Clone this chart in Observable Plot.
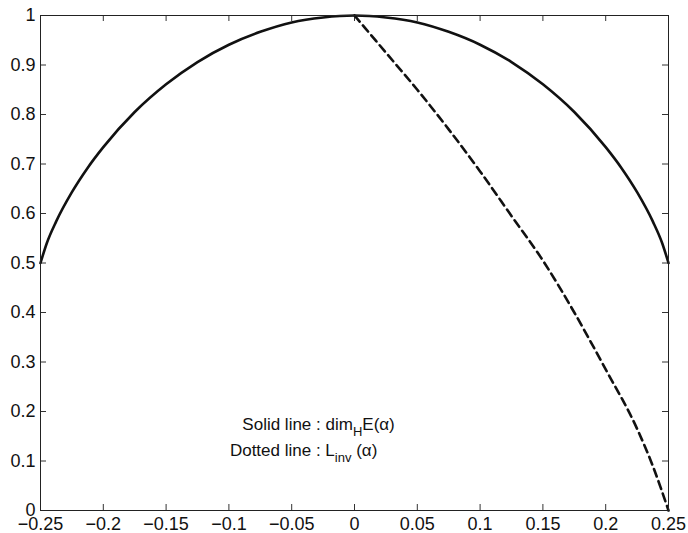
<!DOCTYPE html>
<html>
<head>
<meta charset="utf-8">
<script src="https://cdn.jsdelivr.net/npm/d3@7"></script>
<script src="https://cdn.jsdelivr.net/npm/@observablehq/plot@0.6"></script>
<style>
  html, body { margin: 0; padding: 0; background: #fff; }
</style>
</head>
<body>
<div id="chart"></div>
<script>
// ---- data ----
const solidX = [-0.25, -0.245, -0.2375, -0.225, -0.2125, -0.2, -0.175, -0.15, -0.125, -0.1, -0.075, -0.05, -0.025, 0,
                0.025, 0.05, 0.075, 0.1, 0.125, 0.15, 0.175, 0.2, 0.2125, 0.225, 0.2375, 0.245, 0.25];
const solidY = [0.5, 0.54, 0.584, 0.643, 0.692, 0.734, 0.805, 0.861, 0.906, 0.941, 0.967, 0.986, 0.996, 1,
                0.996, 0.986, 0.967, 0.941, 0.906, 0.861, 0.805, 0.734, 0.692, 0.643, 0.584, 0.54, 0.5];

const dashX = [0, 0.025, 0.05, 0.075, 0.1, 0.125, 0.15, 0.175, 0.2, 0.225, 0.2375, 0.25];
const dashY = [1, 0.925, 0.85, 0.77, 0.685, 0.595, 0.505, 0.40, 0.285, 0.165, 0.09, 0];

const xTicks = [-0.25, -0.2, -0.15, -0.1, -0.05, 0, 0.05, 0.1, 0.15, 0.2, 0.25];
const yTicks = [0, 0.1, 0.2, 0.3, 0.4, 0.5, 0.6, 0.7, 0.8, 0.9, 1];

const noteLabels = ["Solid line : dimHE(α)", "Dotted line : Linv (α)"];
const noteX = [-0.0893, -0.0992];
const noteY = [0.174, 0.1205];

// ---- tables ----
const solid = solidX.map((x, i) => ({x, y: solidY[i]}));
const dashed = dashX.map((x, i) => ({x, y: dashY[i]}));
const notes = noteLabels.map((label, i) => ({label, x: noteX[i], y: noteY[i]}));

const W = 688, H = 533;
const mT = 15, mB = 23, mL = 40, mR = 20;
const tickLen = 6;
const fmt = d => d < 0 ? "\u2212" + String(Math.abs(d)) : String(d);

const plot = Plot.plot({
  width: W,
  height: H,
  marginTop: mT,
  marginBottom: mB,
  marginLeft: mL,
  marginRight: mR,
  style: {fontFamily: "'Liberation Sans', Arial, Helvetica, sans-serif", fontSize: "18px", color: "#111", background: "#fff"},
  x: {domain: [-0.25, 0.25]},
  y: {domain: [0, 1]},
  marks: [
    // inward ticks on all four sides
    Plot.tickX(xTicks, {x: d => d, insetTop: H - mT - mB - tickLen, stroke: "#333", strokeWidth: 1}),
    Plot.tickX(xTicks, {x: d => d, insetBottom: H - mT - mB - tickLen, stroke: "#333", strokeWidth: 1}),
    Plot.tickY(yTicks, {y: d => d, insetRight: W - mL - mR - tickLen, stroke: "#333", strokeWidth: 1}),
    Plot.tickY(yTicks, {y: d => d, insetLeft: W - mL - mR - tickLen, stroke: "#333", strokeWidth: 1}),
    Plot.axisX({ticks: xTicks, tickSize: 0, tickPadding: 7, tickFormat: fmt, label: null, fill: "#111"}),
    Plot.axisY({ticks: yTicks, tickSize: 0, tickPadding: 5, tickFormat: fmt, label: null, fill: "#111"}),
    Plot.line(solid, {x: "x", y: "y", stroke: "#111", strokeWidth: 2.6, curve: "monotone-x"}),
    Plot.line(dashed, {x: "x", y: "y", stroke: "#111", strokeWidth: 2.6, strokeDasharray: "8,5", curve: "monotone-x"}),
    Plot.text(notes, {x: "x", y: "y", text: "label", textAnchor: "start", fill: "#111"}),
    Plot.frame({stroke: "#222", strokeWidth: 1})
  ]
});

// rich text: subscripts in the annotation
const svgNS = "http://www.w3.org/2000/svg";
function setRich(el, parts) {
  while (el.firstChild) el.removeChild(el.firstChild);
  el.style.fontSize = "17px";
  for (const [txt, sub] of parts) {
    const t = document.createElementNS(svgNS, "tspan");
    t.textContent = txt;
    if (sub === 1) { t.setAttribute("dy", "6"); t.style.fontSize = "13px"; }
    if (sub === -1) { t.setAttribute("dy", "-6"); }
    el.appendChild(t);
  }
}
plot.querySelectorAll("text").forEach(el => {
  const s = el.textContent;
  if (s === noteLabels[0]) setRich(el, [["Solid line : dim", 0], ["H", 1], ["E(α)", -1]]);
  else if (s === noteLabels[1]) setRich(el, [["Dotted line : L", 0], ["inv", 1], [" (α)", -1]]);
  else { el.style.fontSize = "18px"; }
});

document.getElementById("chart").appendChild(plot);
</script>
</body>
</html>
